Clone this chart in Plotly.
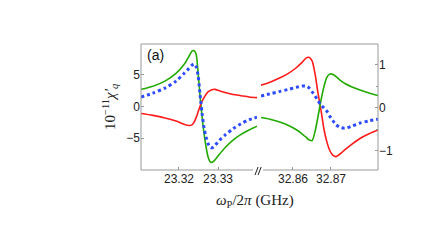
import plotly.graph_objects as go

# ---- data ----
# left panel (around 23.33 GHz), left axis scale
x_left = [23.31026, 23.31333, 23.31641, 23.31923, 23.32128, 23.32256, 23.32333,
          23.32385, 23.32436, 23.32487, 23.32538, 23.32590, 23.32641, 23.32692,
          23.32744, 23.32795, 23.32846, 23.32923, 23.33026, 23.33179, 23.33385,
          23.33590, 23.33795, 23.34000]
green_left = [2.7, 3.2, 4.0, 5.2, 6.6, 7.9, 8.7, 8.8, 8.3, 5.5, 1.8, -1.5, -4.2, -6.3,
              -7.9, -8.7, -8.8, -8.4, -7.6, -6.5, -5.3, -4.4, -3.7, -3.1]
blue_left = [1.5, 2.1, 2.9, 4.0, 5.2, 6.0, 6.5, 6.7, 6.3, 5.0, 2.0, -1.0, -3.3, -4.8,
             -5.8, -6.4, -6.5, -6.1, -5.4, -4.5, -3.5, -2.7, -2.1, -1.7]
red_left = [-1.1, -1.4, -1.8, -2.3, -2.8, -3.0, -2.9, -2.5, -1.8, -0.9, 0.0, 0.8, 1.4,
            1.9, 2.3, 2.5, 2.65, 2.7, 2.5, 2.2, 1.9, 1.7, 1.5, 1.4]

# right panel (around 32.87 GHz), right axis scale
x_right = [32.85158, 32.85395, 32.85632, 32.85868, 32.86079, 32.86237, 32.86342,
           32.86421, 32.86500, 32.86579, 32.86658, 32.86737, 32.86816, 32.86895,
           32.86974, 32.87053, 32.87132, 32.87237, 32.87368, 32.87553, 32.87763,
           32.88000, 32.88237]
red_right = [0.53, 0.60, 0.69, 0.80, 0.93, 1.06, 1.16, 1.18, 1.10, 0.80, 0.35, -0.05,
             -0.50, -0.80, -1.00, -1.10, -1.13, -1.07, -0.97, -0.84, -0.71, -0.60, -0.51]
green_right = [-0.22, -0.26, -0.32, -0.40, -0.50, -0.60, -0.68, -0.74, -0.76, -0.55,
               -0.20, 0.18, 0.50, 0.72, 0.79, 0.78, 0.73, 0.65, 0.57, 0.49, 0.42, 0.35, 0.29]
blue_right = [0.28, 0.33, 0.38, 0.43, 0.48, 0.51, 0.51, 0.47, 0.38, 0.28, 0.17, 0.07,
              0.0, -0.08, -0.20, -0.30, -0.39, -0.45, -0.47, -0.42, -0.35, -0.30, -0.26]

left_ticks = [23.32, 23.33]
right_ticks = [32.86, 32.87]
yl_ticks = [-5, 0, 5]
yr_ticks = [-1, 0, 1]

GREEN = "#22aa00"
RED = "#ff1a1a"
BLUE = "#2d4bff"
FRAME = "#999999"

fig = go.Figure()
common = dict(mode="lines", line_shape="spline", showlegend=False, hoverinfo="skip")
fig.add_trace(go.Scatter(x=x_left, y=green_left, xaxis="x", yaxis="y",
                         line=dict(color=GREEN, width=1.6, smoothing=0.8), **common))
fig.add_trace(go.Scatter(x=x_left, y=red_left, xaxis="x", yaxis="y",
                         line=dict(color=RED, width=1.6, smoothing=0.8), **common))
fig.add_trace(go.Scatter(x=x_left, y=blue_left, xaxis="x", yaxis="y",
                         line=dict(color=BLUE, width=3, dash="dot", smoothing=0.8), **common))
fig.add_trace(go.Scatter(x=x_right, y=red_right, xaxis="x2", yaxis="y2",
                         line=dict(color=RED, width=1.6, smoothing=0.8), **common))
fig.add_trace(go.Scatter(x=x_right, y=green_right, xaxis="x2", yaxis="y2",
                         line=dict(color=GREEN, width=1.6, smoothing=0.8), **common))
fig.add_trace(go.Scatter(x=x_right, y=blue_right, xaxis="x2", yaxis="y2",
                         line=dict(color=BLUE, width=3, dash="dot", smoothing=0.8), **common))

tickfont = dict(family="Liberation Sans, Arial, sans-serif", size=12, color="#222")
axis_common = dict(showgrid=False, zeroline=False, showline=False, ticks="inside",
                   ticklen=3, tickcolor=FRAME, tickfont=tickfont)

fig.update_layout(
    width=436, height=251,
    margin=dict(l=133, r=66, t=36, b=89),
    paper_bgcolor="white", plot_bgcolor="white",
    xaxis=dict(domain=[0, 0.4895], range=[23.31026, 23.34], tickvals=left_ticks,
               ticktext=[f"{v:.2f}" for v in left_ticks], anchor="y", **axis_common),
    xaxis2=dict(domain=[0.5063, 1], range=[32.85158, 32.88237], tickvals=right_ticks,
                ticktext=[f"{v:.2f}" for v in right_ticks], anchor="y", **axis_common),
    yaxis=dict(range=[-10.0, 9.84], tickvals=yl_ticks,
               ticktext=["\u22125", "0", "5"], anchor="x", **axis_common),
    yaxis2=dict(range=[-1.442, 1.488], tickvals=yr_ticks,
                ticktext=["\u22121", "0", "1"], overlaying="y", side="right",
                anchor="x2", minor=dict(dtick=0.5, ticks="inside", ticklen=2, tickcolor=FRAME),
                **axis_common),
)

# frame (top, left, right full; bottom broken)
line = dict(color=FRAME, width=1)
shapes = [
    dict(type="line", xref="paper", yref="paper", x0=0, x1=1, y0=1, y1=1, line=line),
    dict(type="line", xref="paper", yref="paper", x0=0, x1=0, y0=0, y1=1, line=line),
    dict(type="line", xref="paper", yref="paper", x0=1, x1=1, y0=0, y1=1, line=line),
    dict(type="line", xref="paper", yref="paper", x0=0, x1=0.4726, y0=0, y1=0, line=line),
    dict(type="line", xref="paper", yref="paper", x0=0.515, x1=1, y0=0, y1=0, line=line),
    dict(type="line", xref="paper", yref="paper", x0=0.481, x1=0.494, y0=-0.04, y1=0.024,
         line=dict(color="#222", width=1)),
    dict(type="line", xref="paper", yref="paper", x0=0.494, x1=0.507, y0=-0.04, y1=0.024,
         line=dict(color="#222", width=1)),
]
fig.update_layout(shapes=shapes)

serif = "Liberation Serif, Times New Roman, serif"
fig.add_annotation(text="10<sup>\u221211</sup><i>\u03c7\u2032<sub>q</sub></i>",
                   xref="paper", yref="paper", x=-0.131, y=0.5, textangle=-90,
                   showarrow=False, xanchor="center", yanchor="middle",
                   font=dict(family=serif, size=15, color="#222"))
fig.add_annotation(text="<i>\u03c9</i><sub>P</sub>/2<i>\u03c0</i> (GHz)",
                   xref="paper", yref="paper", x=0.481, y=-0.246,
                   showarrow=False, xanchor="center", yanchor="middle",
                   font=dict(family=serif, size=15, color="#222"))
fig.add_annotation(text="(a)", xref="paper", yref="paper", x=0.015, y=0.915,
                   showarrow=False, xanchor="left", yanchor="middle",
                   font=dict(family="Liberation Sans, Arial, sans-serif", size=14, color="#111"))

fig.write_html("out.html")
